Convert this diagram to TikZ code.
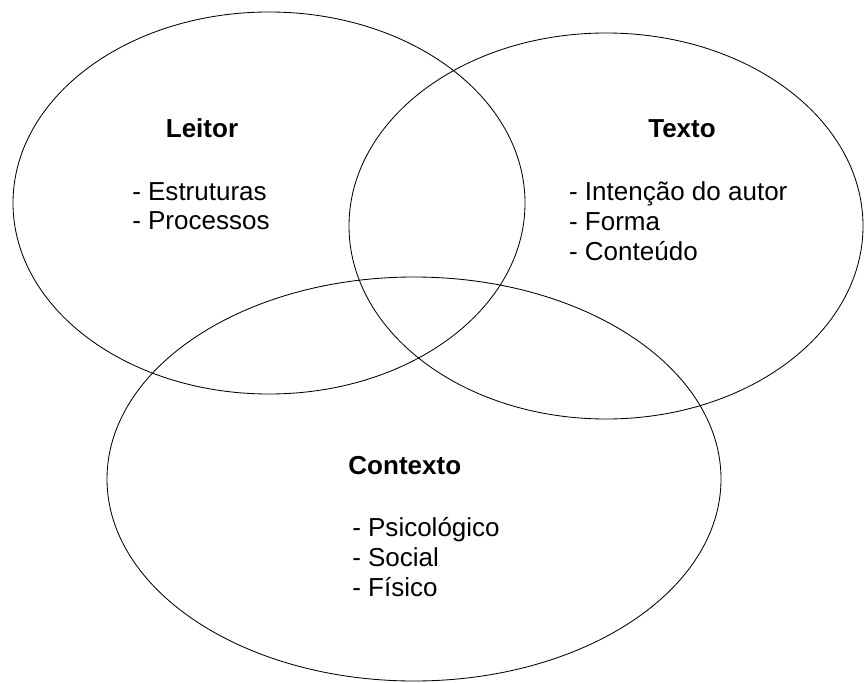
\documentclass[tikz,border=0pt]{standalone}
\usepackage{fontspec}
\setmainfont{Liberation Sans}
\usetikzlibrary{positioning}
\tikzset{
  circle line/.style={line width=.6pt},
  title/.style={font=\fontsize{18.5}{21.3}\selectfont\bfseries, inner sep=0pt, anchor=base},
  items/.style={font=\fontsize{18.5}{21.3}\selectfont, align=left, inner sep=0pt, anchor=base west}
}
\begin{document}
\begin{tikzpicture}
\useasboundingbox (0,0) rectangle (21.6,17.05);
\draw[circle line] (6.725,11.975) ellipse (6.4cm and 4.775cm);
\draw[circle line] (15.15,11.4) ellipse (6.425cm and 4.825cm);
\draw[circle line] (10.35,5.075) ellipse (7.675cm and 5.05cm);
% titles sit on their baselines, lists on the baseline of their last line
\node[title] (leitor) at (5.05,13.6) {Leitor};
\node[items] (leitoritems) at (3.3,11.3) {- Estruturas\\- Processos};
\node[title] (texto) at (17.05,13.6) {Texto};
\node[items] (textoitems) at (14.22,10.55) {- Intenção do autor\\- Forma\\- Conteúdo};
\node[title] (contexto) at (10.12,5.2) {Contexto};
\node[items] (contextoitems) at (8.8,2.15) {- Psicológico\\- Social\\- Físico};
\end{tikzpicture}
\end{document}
